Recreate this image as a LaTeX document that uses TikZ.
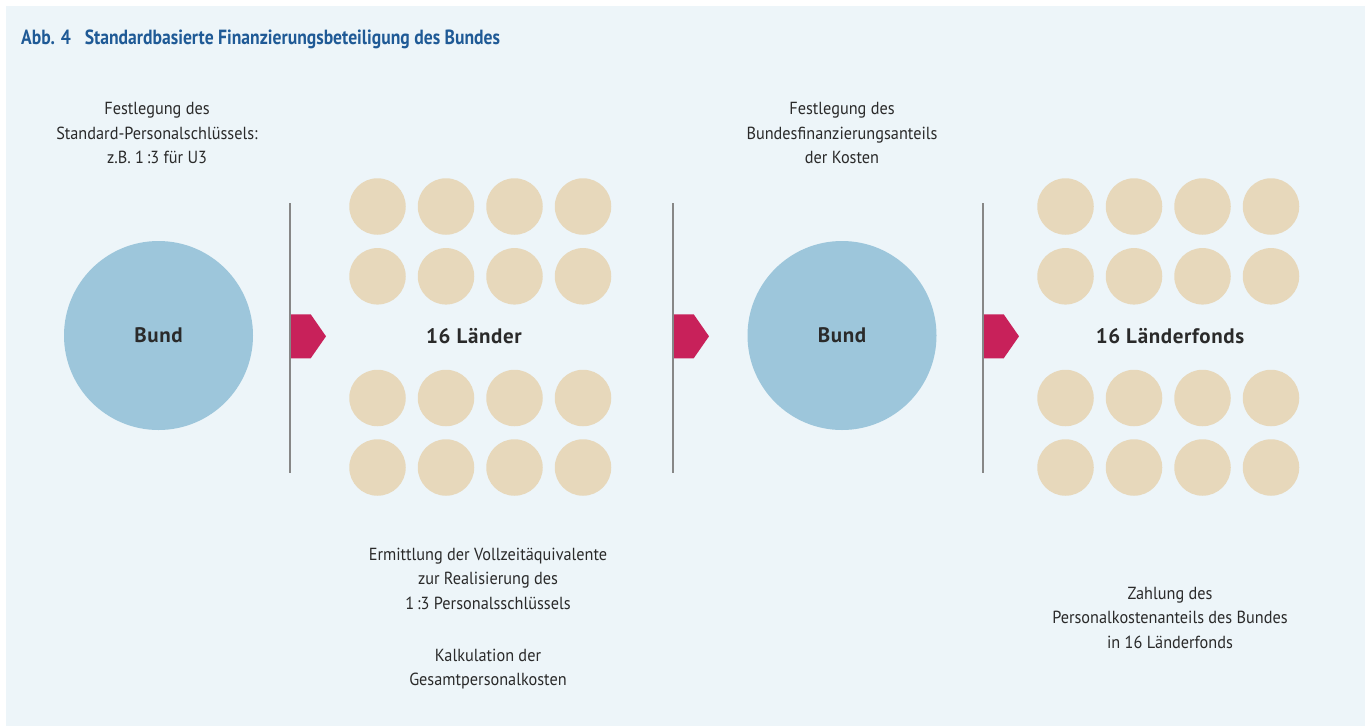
\documentclass[tikz,border=0pt]{standalone}
\usepackage{fontspec}
\setmainfont[FakeStretch=0.93]{PT Sans}
\newfontfamily\titlefont[FakeStretch=0.86]{PT Sans}
\newfontfamily\labelfont[LetterSpace=3]{PT Sans}
\definecolor{bgc}{HTML}{EDF5F9}
\definecolor{bundc}{HTML}{9DC6DB}
\definecolor{landc}{HTML}{E7D8BB}
\definecolor{arrc}{HTML}{C8215A}
\definecolor{linec}{HTML}{878787}
\definecolor{titlec}{HTML}{1F5A96}
\definecolor{txtc}{HTML}{2A2A2A}
\begin{document}
\begin{tikzpicture}[x=1pt,y=-1pt,
  bund/.style={circle,fill=bundc,minimum size=189pt,inner sep=0pt,text=txtc,font=\labelfont\bfseries\fontsize{21}{24}\selectfont},
  land/.style={circle,fill=landc,minimum size=56.5pt,inner sep=0pt},
  label/.style={text=txtc,font=\labelfont\bfseries\fontsize{21}{24}\selectfont,inner sep=0pt},
  desc/.style={text=txtc,align=center,font=\fontsize{17.5}{24.5}\selectfont,inner sep=0pt},
  sepline/.style={draw=linec,line width=2.3pt},
  arrowfill/.style={fill=arrc}]
\useasboundingbox (0,0) rectangle (1370,726);
\fill[white] (0,0) rectangle (1370,726);
\fill[bgc] (6,6) rectangle (1365,726);
\node[anchor=base west,text=titlec,font=\titlefont\bfseries\fontsize{20.5}{24}\selectfont,inner sep=0pt] (title) at (21,44) {Abb. 4\hspace{14pt}Standardbasierte Finanzierungsbeteiligung des Bundes};
% left part
\node[desc] (t1) at (157,133) {Festlegung des\\Standard-Personalschlüssels:\\z.B. 1\,:3 für U3};
\node[bund] (bund1) at (158.5,335.5) {Bund};
\draw[sepline] (290,203) -- (290,473);
\fill[arrowfill,shift={(291,336.3)}] (0,-22) -- (19.7,-22) -- (35,0) -- (19.7,22) -- (0,22) -- cycle;
\foreach \i/\x in {1/377.5,2/446,3/514.5,4/583}
  \foreach \j/\y in {1/206.5,2/276.3,3/398,4/467.5}
    \node[land] (la-\i-\j) at (\x,\y) {};
\node[label] (laender) at (474,336) {16 Länder};
\node[desc] (t2) at (488,618.5) {Ermittlung der Vollzeitäquivalente\\zur Realisierung des\\1\,:3 Personalsschlüssels\\[27.5pt]Kalkulation der\\Gesamtpersonalkosten};
% right part
\draw[sepline] (673,203) -- (673,473);
\fill[arrowfill,shift={(674,336.3)}] (0,-22) -- (19.7,-22) -- (35,0) -- (19.7,22) -- (0,22) -- cycle;
\node[desc] (t3) at (842,133) {Festlegung des\\Bundesfinanzierungsanteils\\der Kosten};
\node[bund] (bund2) at (842,335.5) {Bund};
\draw[sepline] (983,203) -- (983,473);
\fill[arrowfill,shift={(984,336.3)}] (0,-22) -- (19.7,-22) -- (35,0) -- (19.7,22) -- (0,22) -- cycle;
\foreach \i/\x in {1/1065.5,2/1134,3/1202.5,4/1271}
  \foreach \j/\y in {1/206.5,2/276.3,3/398,4/467.5}
    \node[land] (lb-\i-\j) at (\x,\y) {};
\node[label] (fonds) at (1170,336) {16 Länderfonds};
\node[desc] (t4) at (1170,617.5) {Zahlung des\\Personalkostenanteils des Bundes\\in 16 Länderfonds};
\end{tikzpicture}
\end{document}
